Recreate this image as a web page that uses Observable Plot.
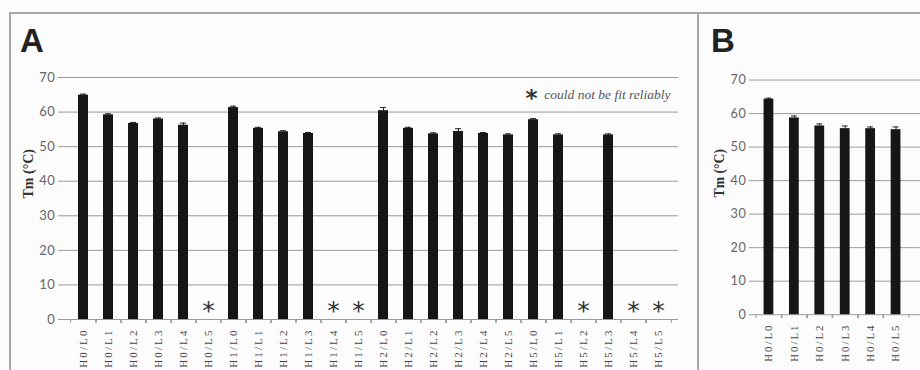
<!DOCTYPE html>
<html><head><meta charset="utf-8">
<script src="https://cdn.jsdelivr.net/npm/d3@7"></script>
<script src="https://cdn.jsdelivr.net/npm/@observablehq/plot@0.6"></script>
<style>
body{margin:0;background:#fcfcfc;}
#wrap{position:relative;width:920px;height:370px;overflow:hidden;background:#fcfcfc;}
.line{position:absolute;background:#a8a8a8;}
#chartA,#chartB{position:absolute;top:60px;}
#chartA{left:0;}
#chartB{left:700px;}
#letters{position:absolute;left:0;top:0;}
[aria-label="x-axis tick label"] text{letter-spacing:2.1px;}
[aria-label="y-axis tick label"] text{letter-spacing:0.6px;}
</style></head>
<body>
<div id="wrap">
  <div class="line" style="left:9px;top:12px;width:911px;height:1.5px"></div>
  <div class="line" style="left:9px;top:12px;width:1.5px;height:358px"></div>
  <div class="line" style="left:697px;top:12px;width:1.5px;height:358px"></div>
  <svg id="letters" width="920" height="60">
    <text x="20" y="52" font-family="Liberation Sans, Arial, sans-serif" font-weight="bold" font-size="33" fill="#222">A</text>
    <text x="711" y="52" font-family="Liberation Sans, Arial, sans-serif" font-weight="bold" font-size="33" fill="#222">B</text>
  </svg>
  <div id="chartA"></div>
  <div id="chartB"></div>
</div>
<script>
// Panel A data
const catsA = ["H0/L0","H0/L1","H0/L2","H0/L3","H0/L4","H0/L5",
               "H1/L0","H1/L1","H1/L2","H1/L3","H1/L4","H1/L5",
               "H2/L0","H2/L1","H2/L2","H2/L3","H2/L4","H2/L5",
               "H5/L0","H5/L1","H5/L2","H5/L3","H5/L4","H5/L5"];
const tmA  = [64.9, 59.2, 56.7, 58.0, 56.2, null,
              61.3, 55.3, 54.3, 53.8, null, null,
              60.4, 55.3, 53.7, 54.4, 53.8, 53.4,
              57.8, 53.4, null, 53.4, null, null];
const errA = [0.3, 0.3, 0.3, 0.3, 0.6, null,
              0.4, 0.3, 0.3, 0.3, null, null,
              0.9, 0.3, 0.3, 0.8, 0.3, 0.3,
              0.3, 0.3, null, 0.3, null, null];
// Panel B data
const catsB = ["H0/L0","H0/L1","H0/L2","H0/L3","H0/L4","H0/L5"];
const tmB  = [64.3, 58.7, 56.3, 55.5, 55.5, 55.2];
const errB = [0.3, 0.6, 0.6, 0.8, 0.5, 0.8];
const yTicks = [0,10,20,30,40,50,60,70];
const legendText = "could not be fit reliably";
const yTitle = "Tm (°C)";

const rows = (cats, vals, errs) => cats.map((c,i)=>({cat:c, tm:vals[i], err:errs[i]}));
const dataA = rows(catsA, tmA, errA);
const dataB = rows(catsB, tmB, errB);

function panel(data, cats, opts){
  const ok = data.filter(d=>d.tm!=null);
  const missing = data.filter(d=>d.tm==null);
  const step = opts.plotW / cats.length;
  const marks = [
    Plot.gridY(yTicks.filter(t=>t>0), {stroke:"#9a9a9a", strokeOpacity:1, strokeWidth:1}),
    Plot.ruleY([0], {stroke:"#9a9a9a"}),
    Plot.ruleX([0], {frameAnchor:"left", stroke:"#9a9a9a"}),
    Plot.barY(ok, {x:"cat", y:"tm", fill:"#161616"}),
    Plot.ruleX(ok, {x:"cat", y1:d=>d.tm-d.err, y2:d=>d.tm+d.err, stroke:"#222", strokeWidth:1}),
    Plot.tickY(ok, {x:"cat", y:d=>d.tm+d.err, stroke:"#222", insetLeft:2, insetRight:2}),
    Plot.text(missing, {x:"cat", y:0, text:()=>"*", fontSize:25, fontFamily:"DejaVu Sans", fill:"#333", dy:-9}),
    Plot.axisY({ticks:yTicks, tickSize:5, tickPadding:3, color:"#666", fontSize:13, fontFamily:"Lato, sans-serif", label:null, stroke:"#999"}),
    Plot.axisX({tickSize:0, tickPadding:9, tickRotate:-90, fontSize:11, fontFamily:"Liberation Serif, serif", color:"#444", label:null}),
    Plot.axisX({tickSize:4, text:null, dx:step/2, stroke:"#999", label:null}),
    Plot.axisX({tickSize:4, text:null, dx:-step/2, stroke:"#999", label:null}),
    Plot.text([yTitle], {frameAnchor:"left", dx:-35, rotate:-90, fontSize:14, fontWeight:"bold", fontFamily:"Liberation Serif, serif", fill:"#333"})
  ];
  if (opts.frameRight) marks.push(Plot.ruleX([0], {frameAnchor:"right", stroke:"#9a9a9a"}));
  if (opts.legend) {
    marks.push(Plot.text([legendText], {frameAnchor:"top-right", dx:-8, dy:17, textAnchor:"end", lineAnchor:"middle", fontSize:13.5, fontStyle:"italic", fontFamily:"Liberation Serif, serif", fill:"#555"}));
    marks.push(Plot.text(["*"], {frameAnchor:"top-right", dx:-147, dy:21, textAnchor:"middle", lineAnchor:"middle", fontSize:23, fontWeight:"bold", fontFamily:"DejaVu Sans", fill:"#333"}));
  }
  return Plot.plot({
    width: opts.width, height: 310,
    marginLeft: opts.ml, marginRight: opts.mr, marginTop: opts.mt, marginBottom: opts.mb,
    style:{background:"transparent", overflow:"visible"},
    x:{domain:cats, paddingInner:0.6, paddingOuter:0.3, label:null, axis:null, ...(opts.xrange?{range:opts.xrange}:{})},
    y:{domain:[0,70], label:null, axis:null},
    marks
  });
}

document.getElementById("chartA").append(panel(dataA, catsA, {width:690, ml:63, mr:12, mt:17, mb:51, plotW:615, frameRight:true, legend:true}));
document.getElementById("chartB").append(panel(dataB, catsB, {width:225, ml:55, mr:0, mt:20, mb:50, plotW:160, xrange:[55,215]}));
</script>
</body></html>
